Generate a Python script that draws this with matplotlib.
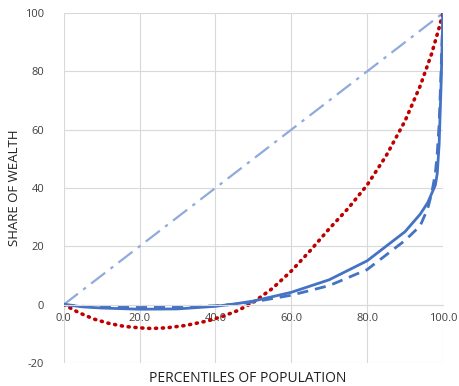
import matplotlib.pyplot as plt

# Lorenz-type curves
pct = [0, 5, 10, 20, 30, 40, 45, 50, 60, 70, 80, 90, 94, 96, 97, 98, 98.5, 99, 99.5, 100]
solid = [0, -0.8, -1.2, -1.6, -1.5, -0.6, 0.2, 1.2, 4.2, 8.5, 15, 25, 31, 35, 38, 41, 45, 55, 75, 100]
dashed = [0, -0.6, -0.9, -1.0, -0.9, -0.4, 0.1, 0.9, 3.2, 6.5, 12, 22, 27, 33, 38, 45, 52, 62, 80, 100]

red_x = [0, 4, 8, 12, 16, 20, 23, 27, 32, 38, 42, 46, 50, 55, 60, 65, 70, 75, 80, 85, 90, 94, 97, 99, 100]
red_y = [0, -2.8, -5.0, -6.5, -7.5, -8.0, -8.2, -8.0, -7.2, -5.6, -4.0, -2.0, 0.8, 5.5, 11.5, 18.5, 26, 33, 41, 51, 63, 75, 86, 95, 100]

eq_x = [0, 100]
eq_y = [0, 100]

xticks = [0, 20, 40, 60, 80, 100]
yticks = [-20, 0, 20, 40, 60, 80, 100]

plt.rcParams['font.family'] = ['Open Sans', 'DejaVu Sans']
plt.rcParams['axes.unicode_minus'] = False

fig = plt.figure(figsize=(4.59, 3.86), dpi=100)
ax = fig.add_axes([0.139, 0.06, 0.826, 0.906])

ax.plot(eq_x, eq_y, color='#8FAADC', lw=1.6, ls=(0, (8, 3, 1.5, 3)))
ax.plot(red_x, red_y, color='#C00000', lw=2.6, ls=(0, (0.3, 1.6)), dash_capstyle='round')
ax.plot(pct, dashed, color='#4472C4', lw=2.0, ls=(0, (4, 2.5)))
ax.plot(pct, solid, color='#4472C4', lw=2.0)

ax.set_xlim(0, 100)
ax.set_ylim(-20, 100)
ax.set_xticks(xticks)
ax.set_xticklabels(['%.1f' % v for v in xticks])
ax.set_yticks(yticks)

ax.grid(True, color='#d9d9d9', lw=0.8)
ax.set_axisbelow(True)
for s in ['top', 'right', 'left']:
    ax.spines[s].set_visible(False)
ax.spines['bottom'].set_position(('data', 0))
ax.spines['bottom'].set_color('#d9d9d9')
ax.tick_params(length=0, colors='#404040')
ax.tick_params(axis='x', pad=6, labelsize=8)
ax.tick_params(axis='y', pad=14, labelsize=8)

ax.set_ylabel('SHARE OF WEALTH', fontsize=9.5, color='#202020', labelpad=3)
fig.text(0.54, 0.0, 'PERCENTILES OF POPULATION', ha='center', va='bottom', fontsize=10, color='#202020')

fig.savefig('out.png')
